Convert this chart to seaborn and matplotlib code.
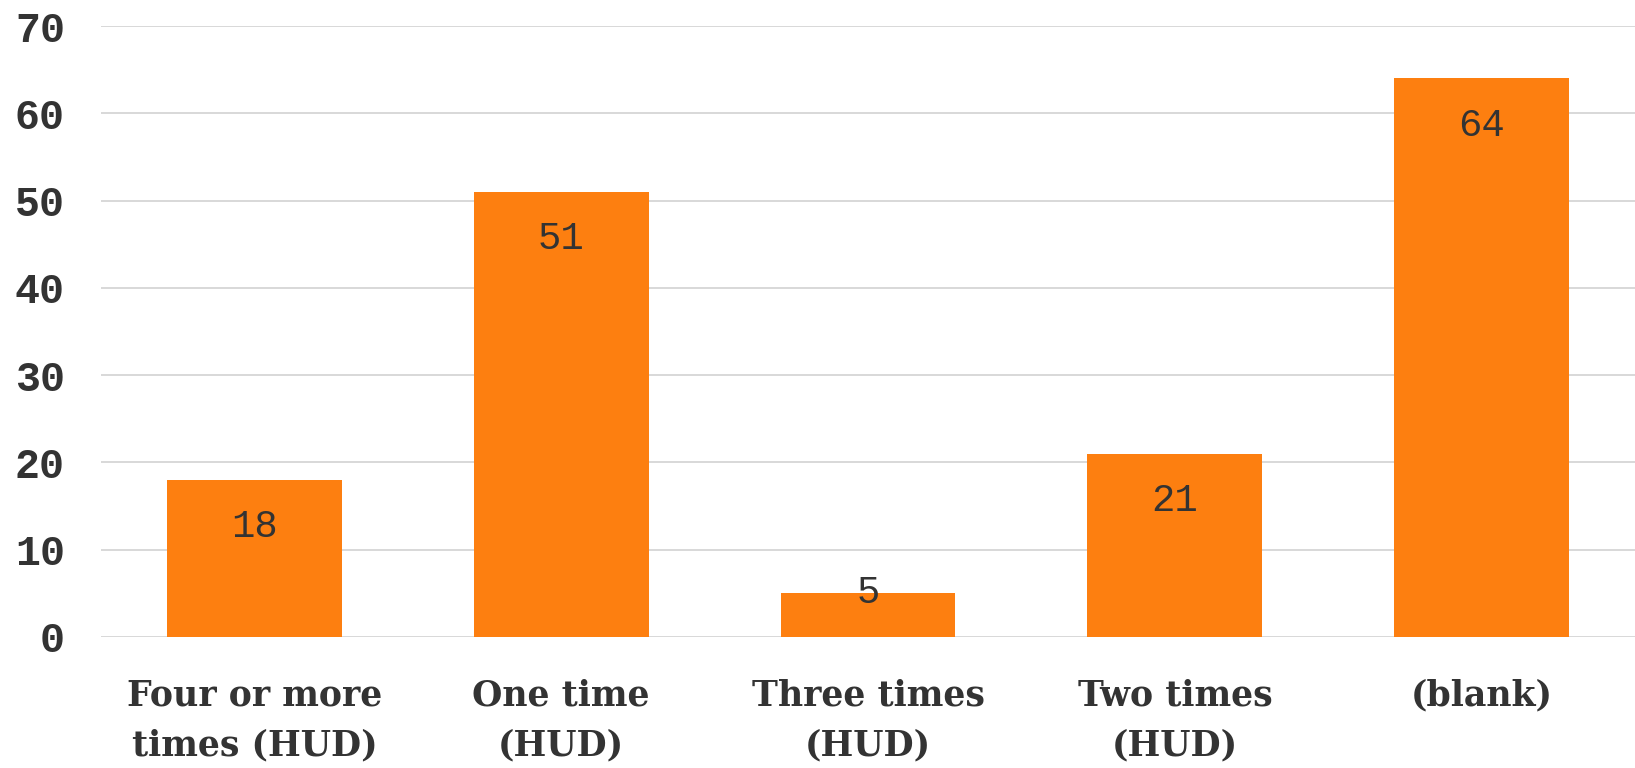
import matplotlib
matplotlib.use("Agg")
import matplotlib.pyplot as plt
import seaborn as sns
import pandas as pd

categories = ["Four or more\ntimes (HUD)", "One time\n(HUD)", "Three times\n(HUD)", "Two times\n(HUD)", "(blank)"]
values = [18, 51, 5, 21, 64]
yticks = [0, 10, 20, 30, 40, 50, 60, 70]

sns.set_theme(style="white")
df = pd.DataFrame({"cat": categories, "val": values})

fig = plt.figure(figsize=(16.35, 7.68), dpi=100)
ax = fig.add_axes([0.0618, 0.1706, 0.9382, 0.7955])
sns.barplot(data=df, x="cat", y="val", color="#FD7F10", saturation=1, width=0.57, ax=ax, zorder=3)
for p in ax.patches:
    p.set_edgecolor("none")

ax.set_ylim(0, 70)
ax.set_yticks(yticks)
ax.yaxis.grid(True, color="#d6d6d6", linewidth=1.3, zorder=0)
ax.set_axisbelow(True)
for s in ax.spines.values():
    s.set_visible(False)
ax.set_xlabel("")
ax.set_ylabel("")
ax.tick_params(axis="y", length=0, pad=26)
ax.tick_params(axis="x", length=0, pad=30)
for lab in ax.get_yticklabels():
    lab.set_fontfamily("Liberation Mono")
    lab.set_fontweight("bold")
    lab.set_fontsize(30)
    lab.set_color("#333333")
for lab in ax.get_xticklabels():
    lab.set_fontfamily("DejaVu Serif")
    lab.set_fontweight("bold")
    lab.set_fontsize(25)
    lab.set_color("#333333")
    lab.set_linespacing(1.6)

for p, v in zip(ax.patches, values):
    off = -34 if v >= 10 else 0
    ax.annotate(str(v), (p.get_x() + p.get_width() / 2, p.get_height()),
                xytext=(0, off), textcoords="offset points", ha="center", va="center",
                fontfamily="Liberation Mono", fontsize=28, color="#333333", zorder=5)

fig.savefig("out.png", dpi=100)
